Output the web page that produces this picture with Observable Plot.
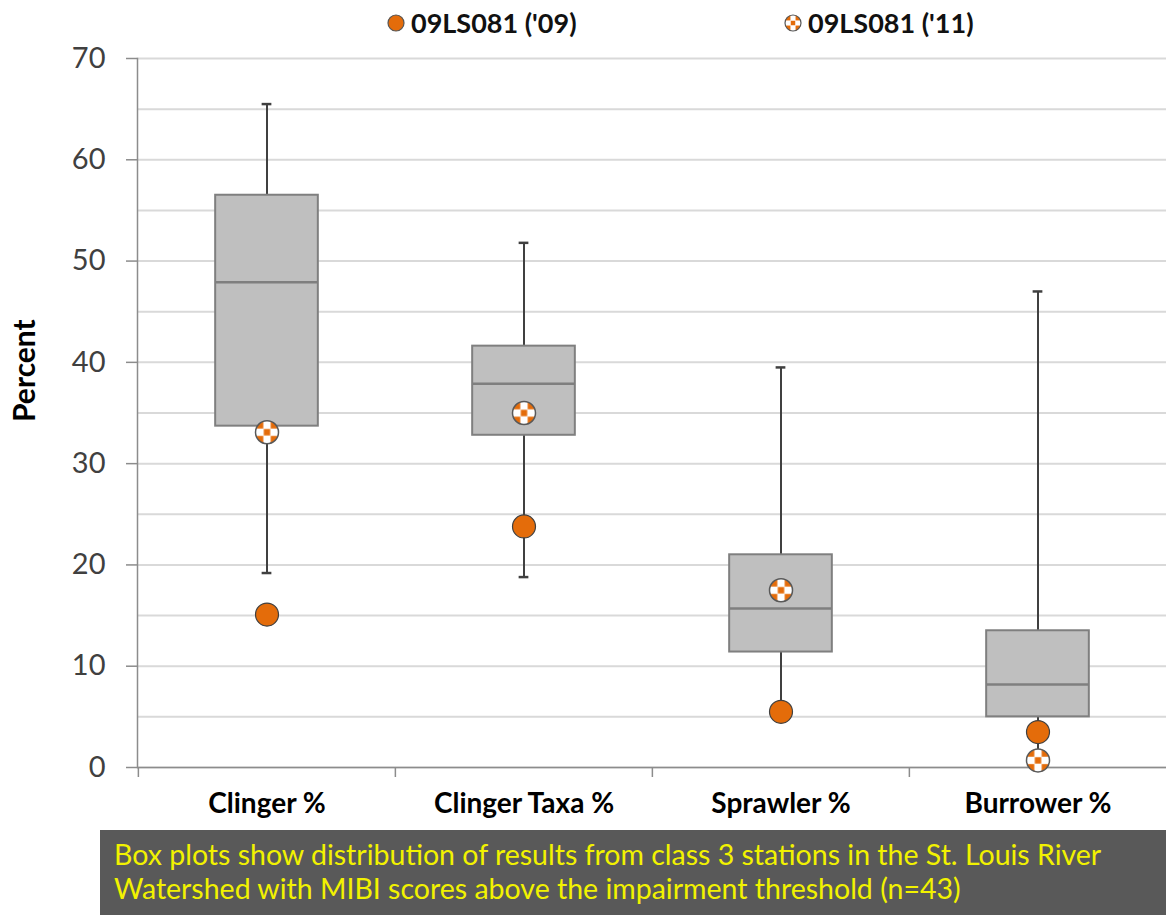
<!DOCTYPE html>
<html><head><meta charset="utf-8">
<script src="https://cdn.jsdelivr.net/npm/d3@7"></script>
<script src="https://cdn.jsdelivr.net/npm/@observablehq/plot@0.6"></script>
<style>
body{margin:0;background:#fff;width:1166px;height:915px;overflow:hidden;font-family:Lato,"Open Sans",sans-serif;}
#legend{position:relative;height:45px;}
.item{position:absolute;top:0;height:45px;display:flex;align-items:center;font-weight:bold;font-size:27px;color:#111;}
.item svg{margin-right:5px}
#chart svg{display:block}
#caption{margin-left:100px;width:1066px;height:85px;background:#595959;color:#f2f200;font-size:28.5px;line-height:34px;box-sizing:border-box;padding:7px 0 0 14px;white-space:nowrap;}
</style></head>
<body>
<svg width="0" height="0" style="position:absolute"><defs>
<pattern id="checker" patternUnits="objectBoundingBox" patternContentUnits="objectBoundingBox" width="1" height="1">
<rect x="0" y="0" width="1" height="1" fill="#ffffff"/>
<rect x="0" y="0" width="0.34" height="0.34" fill="#e46c0a"/>
<rect x="0.66" y="0" width="0.34" height="0.34" fill="#e46c0a"/>
<rect x="0.36" y="0.36" width="0.28" height="0.28" fill="#e46c0a"/>
<rect x="0" y="0.66" width="0.34" height="0.34" fill="#e46c0a"/>
<rect x="0.66" y="0.66" width="0.34" height="0.34" fill="#e46c0a"/>
</pattern></defs></svg>
<div id="legend"></div>
<div id="chart"></div>
<div id="caption"></div>
<script>
const categories = ["Clinger %", "Clinger Taxa %", "Sprawler %", "Burrower %"];
const whiskerLow = [19.2, 18.8, 5.6, 1.0];
const q1 = [33.7, 32.8, 11.4, 5.0];
const median = [47.9, 37.9, 15.7, 8.2];
const q3 = [56.5, 41.6, 21.0, 13.5];
const whiskerHigh = [65.5, 51.8, 39.5, 47.0];
const site2009 = [15.1, 23.8, 5.5, 3.5];
const site2011 = [33.1, 35.0, 17.5, 0.7];
const seriesNames = ["09LS081 ('09)", "09LS081 ('11)"];
const yTicks = [0, 10, 20, 30, 40, 50, 60, 70];
const gridTicks = [0, 5, 10, 15, 20, 25, 30, 35, 40, 45, 50, 55, 60, 65, 70];
const yLabel = "Percent";
const captionLines = [
  "Box plots show distribution of results from class 3 stations in the St. Louis River",
  "Watershed with MIBI scores above the impairment threshold (n=43)"
];

const rows = categories.map((c, i) => ({
  cat: c, lo: whiskerLow[i], q1: q1[i], med: median[i], q3: q3[i], hi: whiskerHigh[i],
  s09: site2009[i], s11: site2011[i]
}));

const ORANGE = "#e46c0a";
const width = 1166, height = 785, mL = 137, mR = 0, mT = 13, mB = 63;
const bw = (width - mL - mR) / categories.length;
const boxInset = bw * 0.3;

// legend
const legend = document.getElementById("legend");
const fills = [ORANGE, "url(#checker)"];
const lefts = [386, 783];
seriesNames.forEach((name, i) => {
  const d = document.createElement("div");
  d.className = "item";
  d.style.left = lefts[i] + "px";
  d.innerHTML = `<svg width="20" height="20"><circle cx="10" cy="10" r="8" fill="${fills[i]}" stroke="#555" stroke-width="1.2"/></svg><span>${name}</span>`;
  legend.appendChild(d);
});

const chart = Plot.plot({
  width, height,
  marginLeft: mL, marginRight: mR, marginTop: mT, marginBottom: mB,
  x: {domain: categories, padding: 0, label: null},
  y: {domain: [0, 70], label: null},
  style: {fontFamily: "Lato, 'Open Sans', sans-serif", background: "transparent", overflow: "visible"},
  marks: [
    Plot.gridY(gridTicks, {stroke: "#d9d9d9", strokeOpacity: 1, strokeWidth: 2}),
    Plot.ruleY([0], {stroke: "#8c8c8c", strokeWidth: 1.5}),
    Plot.frame({anchor: "left", stroke: "#8c8c8c", strokeWidth: 1.5}),
    Plot.axisY({ticks: yTicks, tickSize: 11, tickPadding: 21, fontSize: 29, fill: "#404040", stroke: "#8c8c8c", strokeWidth: 1.5, label: null}),
    Plot.axisX({tickSize: 10, tickFormat: () => "", dx: -bw / 2, stroke: "#8c8c8c", strokeWidth: 1.5, label: null}),
    Plot.axisX({tickSize: 0, tickPadding: 26, fontSize: 28, fontWeight: "bold", fill: "#000", label: null}),
    Plot.ruleX(rows, {x: "cat", y1: "lo", y2: "hi", stroke: "#404040", strokeWidth: 2}),
    Plot.tickY(rows, {x: "cat", y: "lo", inset: bw / 2 - 5, stroke: "#404040", strokeWidth: 2.5}),
    Plot.tickY(rows, {x: "cat", y: "hi", inset: bw / 2 - 5, stroke: "#404040", strokeWidth: 2.5}),
    Plot.barY(rows, {x: "cat", y1: "q1", y2: "q3", insetLeft: boxInset, insetRight: boxInset, fill: "#bfbfbf", stroke: "#7f7f7f", strokeWidth: 2}),
    Plot.tickY(rows, {x: "cat", y: "med", inset: boxInset, stroke: "#7f7f7f", strokeWidth: 2.5}),
    Plot.dot(rows, {x: "cat", y: "s09", r: 11.5, fill: ORANGE, stroke: "#404040", strokeWidth: 1.2}),
    Plot.dot(rows, {x: "cat", y: "s11", r: 11.5, fill: "url(#checker)", stroke: "#595959", strokeWidth: 1.5}),
    Plot.text([yLabel], {frameAnchor: "left", dx: -112, dy: 9, rotate: -90, fontSize: 30, fontWeight: "bold", fill: "#000"})
  ]
});
document.getElementById("chart").appendChild(chart);
document.getElementById("caption").innerHTML = captionLines.join("<br>");
</script>
</body></html>
